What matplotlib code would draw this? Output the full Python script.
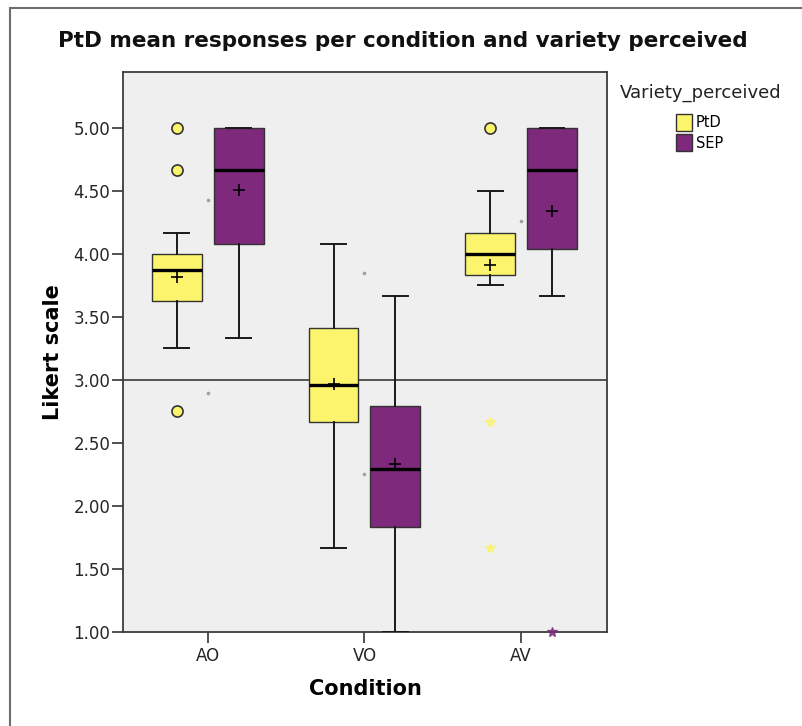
import matplotlib
matplotlib.use("Agg")
import matplotlib.pyplot as plt
from matplotlib.patches import Patch, Rectangle

# values (Likert scale)
conditions = ["AO", "VO", "AV"]
varieties = ["PtD", "SEP"]

ptd_whislo = [3.25, 1.67, 3.75]
ptd_q1 = [3.625, 2.67, 3.833]
ptd_med = [3.875, 2.96, 4.0]
ptd_q3 = [4.0, 3.415, 4.167]
ptd_whishi = [4.17, 4.08, 4.5]
ptd_mean = [3.82, 2.97, 3.91]
ptd_outliers = [[5.0, 4.67, 2.75], [], [5.0]]
ptd_extremes = [[], [], [2.67, 1.67]]

sep_whislo = [3.33, 1.0, 3.67]
sep_q1 = [4.08, 1.83, 4.04]
sep_med = [4.67, 2.29, 4.67]
sep_q3 = [5.0, 2.79, 5.0]
sep_whishi = [5.0, 3.67, 5.0]
sep_mean = [4.51, 2.33, 4.34]
sep_outliers = [[], [], []]
sep_extremes = [[], [], [1.0]]

# faint dots SPSS leaves at the category centres
centre_dots = [[4.43, 2.9], [3.85, 2.25], [4.26]]

ref_value = 3.0

colors = {"PtD": "#fbf46c", "SEP": "#7e297c"}
offsets = {"PtD": -0.197, "SEP": 0.197}
box_width = 0.318


def make_stats(lo, q1, med, q3, hi, mean, fliers):
    return [dict(whislo=lo[i], q1=q1[i], med=med[i], q3=q3[i], whishi=hi[i],
                 mean=mean[i], fliers=fliers[i]) for i in range(len(lo))]


series = {
    "PtD": (make_stats(ptd_whislo, ptd_q1, ptd_med, ptd_q3, ptd_whishi, ptd_mean, ptd_outliers), ptd_extremes),
    "SEP": (make_stats(sep_whislo, sep_q1, sep_med, sep_q3, sep_whishi, sep_mean, sep_outliers), sep_extremes),
}

fig = plt.figure(figsize=(8.03, 7.26), dpi=100)
fig.patches.append(Rectangle((10 / 803, -0.1), 1.0, 1.1 - 8 / 726, transform=fig.transFigure,
                             fill=False, edgecolor="#6e6e6e", linewidth=1.5))

ax = fig.add_axes([123 / 803, 94 / 726, 484 / 803, 560 / 726])
ax.set_facecolor("#efefef")

x = list(range(len(conditions)))
ax.axhline(ref_value, color="#3a3a3a", linewidth=1.2, zorder=1)

for name in varieties:
    stats, extremes = series[name]
    pos = [p + offsets[name] for p in x]
    ax.bxp(stats, positions=pos, widths=box_width, showmeans=True, patch_artist=True,
           manage_ticks=False,
           boxprops=dict(facecolor=colors[name], edgecolor="#333333", linewidth=1.0),
           medianprops=dict(color="black", linewidth=2.4),
           whiskerprops=dict(color="#1a1a1a", linewidth=1.4),
           capprops=dict(color="#1a1a1a", linewidth=1.4),
           meanprops=dict(marker="+", markeredgecolor="black", markersize=9, markeredgewidth=1.2),
           flierprops=dict(marker="o", markerfacecolor=colors[name], markeredgecolor="#333333",
                           markersize=8, markeredgewidth=1.2),
           zorder=3)
    for p, vals in zip(pos, extremes):
        ax.plot([p] * len(vals), vals, linestyle="none", marker="*", markersize=7,
                color=colors[name], alpha=0.8, zorder=4, clip_on=False)

for p, vals in zip(x, centre_dots):
    ax.plot([p] * len(vals), vals, linestyle="none", marker="o", markersize=1.6,
            color="#a0a0a0", zorder=2)

ax.set_xlim(-0.541, 2.548)
ax.set_ylim(1.0, 5.444)
ax.set_xticks(x)
ax.set_xticklabels(conditions)
ax.set_yticks([1.0, 1.5, 2.0, 2.5, 3.0, 3.5, 4.0, 4.5, 5.0])
ax.set_yticklabels([f"{v:.2f}" for v in ax.get_yticks()])
ax.tick_params(axis="both", labelsize=12, labelcolor="#262626", color="#333333",
               length=8, width=1.2, pad=1)
ax.tick_params(axis="x", pad=3)
for s in ax.spines.values():
    s.set_color("#3c3c3c")
    s.set_linewidth(1.3)

ax.set_xlabel("Condition", fontsize=15, fontweight="bold", labelpad=10)
ax.set_ylabel("Likert scale", fontsize=15, fontweight="bold", labelpad=8)
fig.text(403 / 803, 1 - 41 / 726, "PtD mean responses per condition and variety perceived",
         ha="center", va="center", fontsize=15.5, fontweight="bold", color="#111111")

# legend: title as text, entries below it
fig.text(701 / 803, 1 - 93 / 726, "Variety_perceived", ha="center", va="center",
         fontsize=13, color="#222222")
handles = [Patch(facecolor=colors[n], edgecolor="#333333", linewidth=1.0, label=n) for n in varieties]
leg = fig.legend(handles=handles, loc="upper left", bbox_to_anchor=(666 / 803, 1 - 104 / 726),
                 fontsize=10.5, frameon=False,
                 handlelength=1.1, handleheight=1.4, handletextpad=0.25, labelspacing=0.22,
                 borderpad=0.2)

fig.savefig("out.png", dpi=100)
